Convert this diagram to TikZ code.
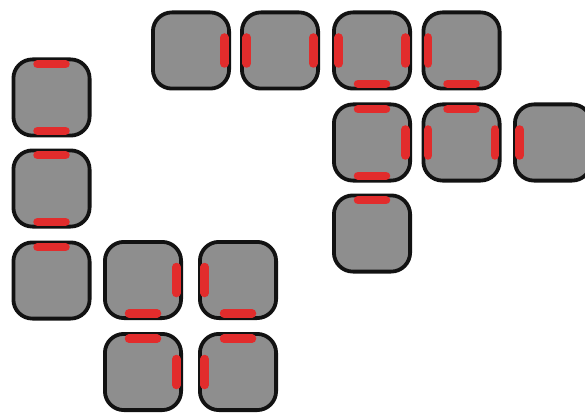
\documentclass[tikz,border=0pt]{standalone}
\usetikzlibrary{calc}
\definecolor{tilegray}{RGB}{142,142,142}
\definecolor{barred}{RGB}{226,44,44}
\definecolor{edgeblack}{RGB}{18,18,18}
\tikzset{
  tile/.style={draw=edgeblack, fill=tilegray, line width=3.8pt, rounded corners=19pt,
    minimum width=76.2pt, minimum height=76.2pt, inner sep=0pt, outer sep=0pt},
  redbar/.style={draw=barred, line width=8.5pt, line cap=round}
}
\newcommand\barN[1]{\draw[redbar] ([shift={(-14,4.8)}]#1.north) -- ([shift={(14,4.8)}]#1.north);}
\newcommand\barS[1]{\draw[redbar] ([shift={(-14,-4.8)}]#1.south) -- ([shift={(14,-4.8)}]#1.south);}
\newcommand\barE[1]{\draw[redbar] ([shift={(-4.8,-13)}]#1.east) -- ([shift={(-4.8,13)}]#1.east);}
\newcommand\barW[1]{\draw[redbar] ([shift={(4.8,-13)}]#1.west) -- ([shift={(4.8,13)}]#1.west);}
\begin{document}
\begin{tikzpicture}[x=1pt,y=-1pt]
\useasboundingbox (0,0) rectangle (585,414);
% top row
\node[tile] (a1) at (191,50.5) {};
\node[tile] (a2) at (280,50.5) {};
\node[tile] (a3) at (372,50.5) {};
\node[tile] (a4) at (461.5,50.5) {};
% second row right group
\node[tile] (b1) at (372,142.5) {};
\node[tile] (b2) at (461.5,142.5) {};
\node[tile] (b3) at (553,142.5) {};
% third row
\node[tile] (c1) at (372,233.5) {};
% left column
\node[tile] (l1) at (51.5,97.5) {};
\node[tile] (l2) at (51.5,188.5) {};
\node[tile] (l3) at (51.5,280.5) {};
% bottom block
\node[tile] (d1) at (143,280) {};
\node[tile] (d2) at (238,280) {};
\node[tile] (d3) at (143,372) {};
\node[tile] (d4) at (238,372) {};
% bars
\barE{a1}
\barW{a2}\barE{a2}
\barW{a3}\barE{a3}\barS{a3}
\barW{a4}\barS{a4}
\barN{b1}\barE{b1}\barS{b1}
\barN{b2}\barW{b2}\barE{b2}
\barW{b3}
\barN{c1}
\barN{l1}\barS{l1}
\barN{l2}\barS{l2}
\barN{l3}
\barE{d1}\barS{d1}
\barW{d2}\barS{d2}
\barN{d3}\barE{d3}
\barN{d4}\barW{d4}
\end{tikzpicture}
\end{document}
